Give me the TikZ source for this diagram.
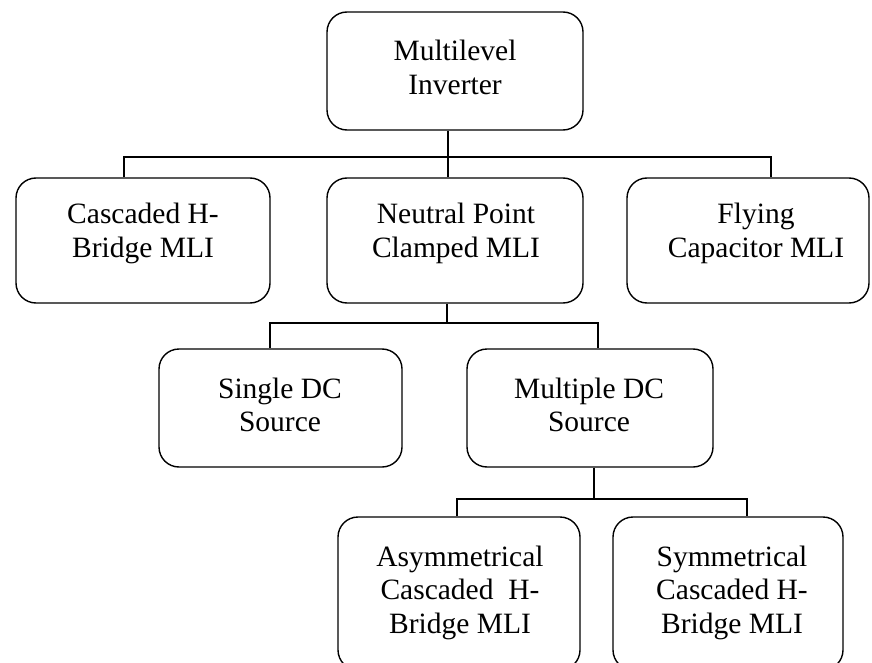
\documentclass[tikz,border=0pt]{standalone}
\usepackage{fontspec}
\setmainfont{Liberation Serif}
\usetikzlibrary{calc}
\begin{document}
\begin{tikzpicture}[x=1pt,y=-1pt,
  box/.style={draw=black, line width=1.4pt, rounded corners=20pt, minimum width=#1, inner sep=0pt},
  lbl/.style={align=center, inner sep=0pt, font=\fontsize{29.5}{33.5}\selectfont},
  conn/.style={draw=black, line width=1.4pt}]
\useasboundingbox (0,0) rectangle (872,663);
\clip (0,0) rectangle (872,663);
% boxes
\node[box=256pt, minimum height=118pt] (mli) at (455,71) {};
\node[box=254pt, minimum height=125pt] (chb) at (143,240.5) {};
\node[box=256pt, minimum height=125pt] (npc) at (455,240.5) {};
\node[box=242pt, minimum height=125pt] (fc) at (748,240.5) {};
\node[box=243pt, minimum height=118pt] (sdc) at (280.5,408) {};
\node[box=246pt, minimum height=118pt] (mdc) at (590,408) {};
\node[box=242pt, minimum height=153pt] (asy) at (459,593.5) {};
\node[box=230pt, minimum height=153pt] (sym) at (728,593.5) {};
% labels
\node[lbl] (mlit) at (455,67.5) {Multilevel\\Inverter};
\node[lbl] (chbt) at (143,233.5) {Cascaded H-\\Bridge MLI};
\node[lbl] (npct) at (456,233.5) {Neutral Point\\Clamped MLI};
\node[lbl] (fct) at (756,233.5) {Flying\\Capacitor MLI};
\node[lbl] (sdct) at (280,405) {Single DC\\Source};
\node[lbl] (mdct) at (589,405) {Multiple DC\\Source};
\node[lbl] (asyt) at (460,592.5) {Asymmetrical\\Cascaded\ \ H-\\Bridge MLI};
\node[lbl] (symt) at (732,592.5) {Symmetrical\\Cascaded H-\\Bridge MLI};
% junction coordinates
\coordinate (j1) at (448,157);
\coordinate (xa) at (124,157);
\coordinate (xb) at (771,157);
\coordinate (j2) at (447,323);
\coordinate (xc) at (270,323);
\coordinate (xd) at (598,323);
\coordinate (j3) at (594,499);
\coordinate (xe) at (457,499);
\coordinate (xf) at (747,499);
% connectors
\draw[conn] (mli.south -| j1) -- (npc.north -| j1);
\draw[conn] (chb.north -| xa) -- (xa) -- (xb) -- (fc.north -| xb);
\draw[conn] (npc.south -| j2) -- (j2);
\draw[conn] (sdc.north -| xc) -- (xc) -- (xd) -- (mdc.north -| xd);
\draw[conn] (mdc.south -| j3) -- (j3);
\draw[conn] (asy.north -| xe) -- (xe) -- (xf) -- (sym.north -| xf);
\end{tikzpicture}
\end{document}
